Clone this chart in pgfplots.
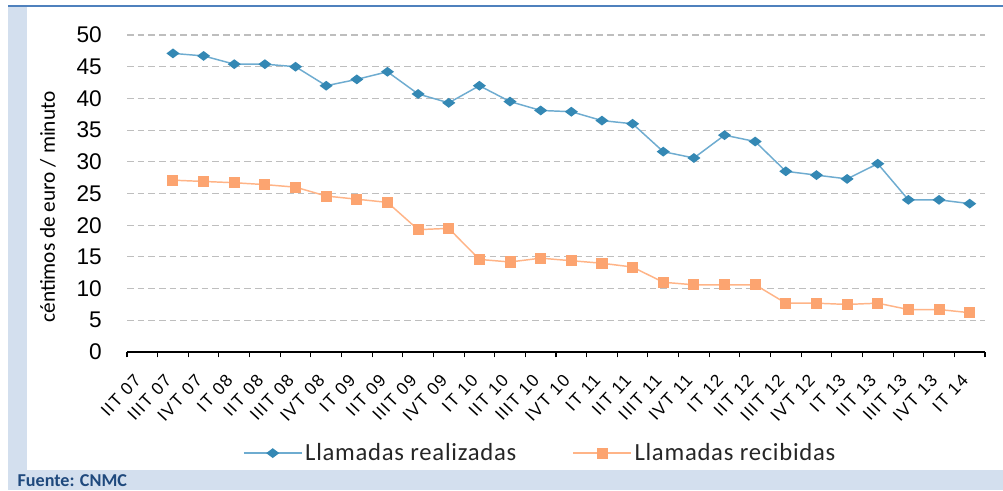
\documentclass[border=0pt]{standalone}
\usepackage{fontspec}
\setmainfont{Carlito}
\newfontfamily\arial{Liberation Sans}
\newfontfamily\arialx[LetterSpace=7]{Liberation Sans}
\newfontfamily\calls[LetterSpace=3]{Carlito}
\usepackage{pgfplots}
\pgfplotsset{compat=1.18}

\definecolor{frameblue}{RGB}{211,223,238}
\definecolor{topline}{RGB}{79,129,189}
\definecolor{srcblue}{RGB}{31,73,125}
\definecolor{realline}{RGB}{110,172,208}
\definecolor{realmark}{RGB}{52,136,180}
\definecolor{recline}{RGB}{255,180,135}
\definecolor{recmark}{RGB}{252,164,112}
\definecolor{gridgray}{RGB}{190,190,190}

\begin{document}
\begin{tikzpicture}
% page: 1003 x 490 px, 1 px = 0.75pt
\useasboundingbox (0,0) rectangle (752.25pt,367.5pt);
\fill[white] (0,0) rectangle (752.25pt,367.5pt);
\fill[frameblue] (6pt,0) rectangle (20.25pt,362.5pt);
\fill[frameblue] (6pt,0) rectangle (752.25pt,15pt);
\draw[topline, line width=1.8pt] (6pt,362.8pt) -- (752.25pt,362.8pt);
\node[anchor=west, inner sep=0pt, text=srcblue, font=\bfseries\fontsize{13.6}{15}\selectfont]
  at (13pt,6.9pt) {Fuente: CNMC};

\begin{axis}[
    at={(95.25pt,103.5pt)}, anchor=south west,
    scale only axis,
    width=643.5pt, height=237.75pt,
    xmin=-0.5, xmax=27.5,
    ymin=0, ymax=50,
    axis x line*=bottom,
    axis y line*=left,
    x axis line style={-, black, line width=0.8pt},
    y axis line style={draw=none},
    ytick={0,5,...,50},
    xtick={0,...,27},
    xticklabels={IIT 07,IIIT 07,IVT 07,IT 08,IIT 08,IIIT 08,IVT 08,IT 09,IIT 09,IIIT 09,IVT 09,IT 10,IIT 10,IIIT 10,IVT 10,IT 11,IIT 11,IIIT 11,IVT 11,IT 12,IIT 12,IIIT 12,IVT 12,IT 13,IIT 13,IIIT 13,IVT 13,IT 14},
    minor xtick={-0.5,0.5,...,27.5},
    major tick length=0pt,
    minor tick length=4pt,
    tick align=outside,
    minor tick style={black, line width=0.8pt},
    /pgf/number format/assume math mode=true,
    yticklabel style={font=\arial\fontsize{17}{20}\selectfont, inner sep=0pt, xshift=-18.75pt},
    xticklabel style={font=\arialx\fontsize{13}{14}\selectfont, xshift=-3.5pt, yshift=-19pt, rotate=47, anchor=east, inner sep=0pt},
    ymajorgrids,
    grid style={gridgray, dash pattern=on 5pt off 3pt, line width=0.8pt},
    legend columns=2,
    legend style={at={(0.482,-0.319)}, anchor=center, draw=none, fill=none,
      font=\calls\fontsize{18.5}{21}\selectfont, text=black!85,
      /tikz/every even column/.append style={column sep=40pt}},
    legend image code/.code={\draw[mark repeat=2, mark phase=2, #1] plot coordinates {(0pt,0pt) (21.75pt,0pt) (43.5pt,0pt)};},
]
\addplot[realline, line width=1.1pt, mark=diamond*, mark size=4pt,
  mark options={rotate=90, fill=realmark, draw=realmark}] coordinates {
(1,47.1) (2,46.7) (3,45.4) (4,45.4) (5,45.0) (6,42.0) (7,43.0) (8,44.2)
(9,40.7) (10,39.3) (11,42.0) (12,39.5) (13,38.1) (14,37.9) (15,36.5) (16,36.0)
(17,31.6) (18,30.6) (19,34.2) (20,33.2) (21,28.5) (22,27.9) (23,27.3) (24,29.7)
(25,24.0) (26,24.0) (27,23.4)
};
\addlegendentry{Llamadas realizadas}
\addplot[recline, line width=1.1pt, mark=square*, mark size=3.6pt,
  mark options={fill=recmark, draw=recmark}] coordinates {
(1,27.1) (2,26.9) (3,26.7) (4,26.4) (5,26.0) (6,24.6) (7,24.1) (8,23.6)
(9,19.3) (10,19.5) (11,14.6) (12,14.2) (13,14.8) (14,14.4) (15,14.0) (16,13.4)
(17,11.0) (18,10.6) (19,10.6) (20,10.6) (21,7.7) (22,7.7) (23,7.5) (24,7.7)
(25,6.7) (26,6.7) (27,6.2)
};
\addlegendentry{Llamadas recibidas}
\end{axis}

\node[rotate=90, font=\fontsize{16}{18}\selectfont] at (36pt,212.25pt) {céntimos de euro / minuto};
\end{tikzpicture}
\end{document}
